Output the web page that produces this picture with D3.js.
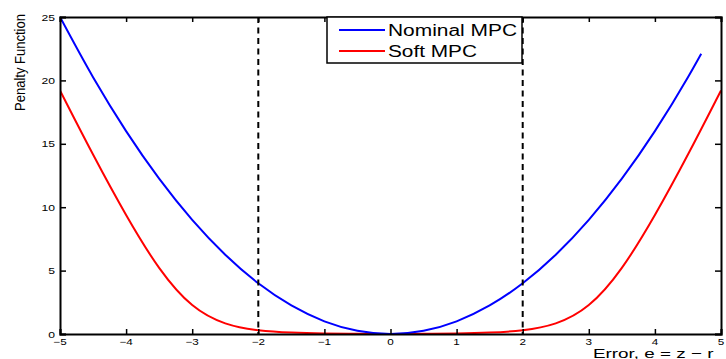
<!DOCTYPE html>
<html><head><meta charset="utf-8">
<script src="https://cdn.jsdelivr.net/npm/d3@7"></script>
<style>body{margin:0;background:#fff}svg{display:block}text{font-family:"Liberation Sans",Arial,sans-serif;fill:#000}</style>
</head><body>
<script>
// Data
const errorNominal = [-5,-4.5,-4,-3.5,-3,-2.5,-2,-1.5,-1,-0.5,0,0.5,1,1.5,2,2.5,3,3.5,4,4.5,4.7];
const penaltyNominal = [25,20.25,16,12.25,9,6.25,4,2.25,1,0.25,0,0.25,1,2.25,4,6.25,9,12.25,16,20.25,22.1];
const errorSoft = [-5,-4.5,-4,-3.5,-3,-2.5,-2,-1.5,-1,-0.5,0,0.5,1,1.5,2,2.5,3,3.5,4,4.5,5];
const penaltySoft = [19.2,14.1,9.3,5.0,2.0,0.7,0.25,0.1,0.04,0.01,0,0.01,0.04,0.1,0.25,0.7,2.0,5.0,9.3,14.1,19.2];
const xTicks = [-5,-4,-3,-2,-1,0,1,2,3,4,5];
const yTicks = [0,5,10,15,20,25];
const bounds = [-2,2];
const seriesNames = ["Nominal MPC","Soft MPC"];
const seriesColors = ["#0000ff","#ff0000"];
const xLabel = "Error, e = z \u2212 r";
const yLabel = "Penalty Function";

const W=726,H=359;
const svg=d3.select("body").append("svg").attr("width",W).attr("height",H);
const x=d3.scaleLinear().domain([-5,5]).range([60,721]);
const y=d3.scaleLinear().domain([0,25]).range([334,17]);

svg.append("clipPath").attr("id","clip").append("rect")
  .attr("x",x(-5)).attr("y",y(25)-1).attr("width",x(5)-x(-5)).attr("height",y(0)-y(25)+2);

// curves
const lineSmooth=d3.line().x(d=>x(d[0])).y(d=>y(d[1])).curve(d3.curveBasis);
const line=d3.line().x(d=>x(d[0])).y(d=>y(d[1])).curve(d3.curveMonotoneX);
const g=svg.append("g").attr("clip-path","url(#clip)");
g.append("path").datum(errorSoft.map((e,i)=>[e,penaltySoft[i]])).attr("d",lineSmooth)
  .attr("fill","none").attr("stroke",seriesColors[1]).attr("stroke-width",2);
g.append("path").datum(errorNominal.map((e,i)=>[e,penaltyNominal[i]])).attr("d",line)
  .attr("fill","none").attr("stroke",seriesColors[0]).attr("stroke-width",2);

// dashed bounds
svg.selectAll("line.bd").data(bounds).enter().append("line")
  .attr("x1",d=>x(d)).attr("x2",d=>x(d)).attr("y1",y(25)).attr("y2",y(0))
  .attr("stroke","#000").attr("stroke-width",2).attr("stroke-dasharray","6,4.5");

// axes (box with inward ticks)
const axB=d3.axisBottom(x).tickValues(xTicks).tickSize(-5).tickFormat("");
const axT=d3.axisTop(x).tickValues(xTicks).tickSize(-5).tickFormat("");
const axL=d3.axisLeft(y).tickValues(yTicks).tickSize(-6).tickFormat("");
const axR=d3.axisRight(y).tickValues(yTicks).tickSize(-6).tickFormat("");
[[axB,`translate(0,${y(0)})`],[axT,`translate(0,${y(25)})`],[axL,`translate(${x(-5)},0)`],[axR,`translate(${x(5)},0)`]]
 .forEach(([a,t])=>{const gg=svg.append("g").attr("transform",t).call(a);
   gg.select(".domain").attr("stroke","#000").attr("stroke-width",2);
   gg.selectAll(".tick line").attr("stroke","#000").attr("stroke-width",1.5);});

// tick labels (stretched horizontally like the picture)
const fmt=d=>d<0?"\u2212"+Math.abs(d):String(d);
svg.selectAll("text.xt").data(xTicks).enter().append("text")
  .attr("transform",d=>`translate(${x(d)},344.5) scale(1.3,1)`)
  .attr("text-anchor","middle").attr("font-size",9).text(fmt);
svg.selectAll("text.yt").data(yTicks).enter().append("text")
  .attr("transform",d=>`translate(55,${y(d)+3.5}) scale(1.35,1)`)
  .attr("text-anchor","end").attr("font-size",9).text(fmt);

// axis labels
svg.append("text").attr("transform","translate(593,358) scale(1.45,1)")
  .attr("font-size",13).text(xLabel);
svg.append("text").attr("transform","translate(25,14) rotate(-90)")
  .attr("text-anchor","end").attr("font-size",14)
  .attr("textLength",97).attr("lengthAdjust","spacingAndGlyphs").text(yLabel);

// legend
const lg=svg.append("g");
lg.append("rect").attr("x",327).attr("y",17).attr("width",195).attr("height",46)
  .attr("fill","#fff").attr("stroke","#000").attr("stroke-width",1.5);
const ly=[30,51], tl=[129,89];
seriesNames.forEach((n,i)=>{
  lg.append("line").attr("x1",339).attr("x2",385).attr("y1",ly[i]).attr("y2",ly[i])
    .attr("stroke",seriesColors[i]).attr("stroke-width",2);
  lg.append("text").attr("x",388).attr("y",ly[i]+6).attr("font-size",16)
    .attr("textLength",tl[i]).attr("lengthAdjust","spacingAndGlyphs").text(n);
});
</script>
</body></html>
